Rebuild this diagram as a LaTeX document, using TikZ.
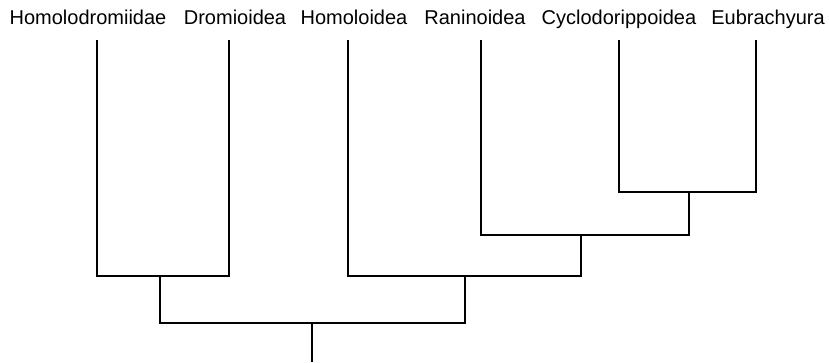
\documentclass[tikz,border=0pt]{standalone}
\usepackage{fontspec}
\setmainfont{Liberation Sans}
\usepackage{tikz}

\begin{document}
\begin{tikzpicture}[x=1pt,y=-1pt,line width=2.4pt,line join=miter,
   taxon/.style={anchor=base,inner sep=0pt,font=\fontsize{20}{24}\selectfont}]
   \useasboundingbox (0,0) rectangle (829,362);

   % taxon names along the top
   \node[taxon] (homd) at (88,24)  {Homolodromiidae};
   \node[taxon] (drom) at (235,24) {Dromioidea};
   \node[taxon] (homo) at (354,24) {Homoloidea};
   \node[taxon] (rani) at (475,24) {Raninoidea};
   \node[taxon] (cycl) at (619,24) {Cyclodorippoidea};
   \node[taxon] (eubr) at (768,24) {Eubrachyura};

   % tips of the branches
   \coordinate (t1) at (97,40);
   \coordinate (t2) at (229,40);
   \coordinate (t3) at (348,40);
   \coordinate (t4) at (481,40);
   \coordinate (t5) at (619,40);
   \coordinate (t6) at (756,40);

   % inner nodes
   \coordinate (ce)   at (689,192);
   \coordinate (rce)  at (581,235);
   \coordinate (hrce) at (465,276);
   \coordinate (hd)   at (160,276);
   \coordinate (root) at (312,323);
   \coordinate (base) at (312,362);

   \draw (t5) |- (ce) -| (t6);
   \draw (t4) |- (rce) -| (ce);
   \draw (t3) |- (hrce) -| (rce);
   \draw (t1) |- (hd) -| (t2);
   \draw (hd) |- (root) -| (hrce);
   \draw (root) -- (base);
\end{tikzpicture}
\end{document}
